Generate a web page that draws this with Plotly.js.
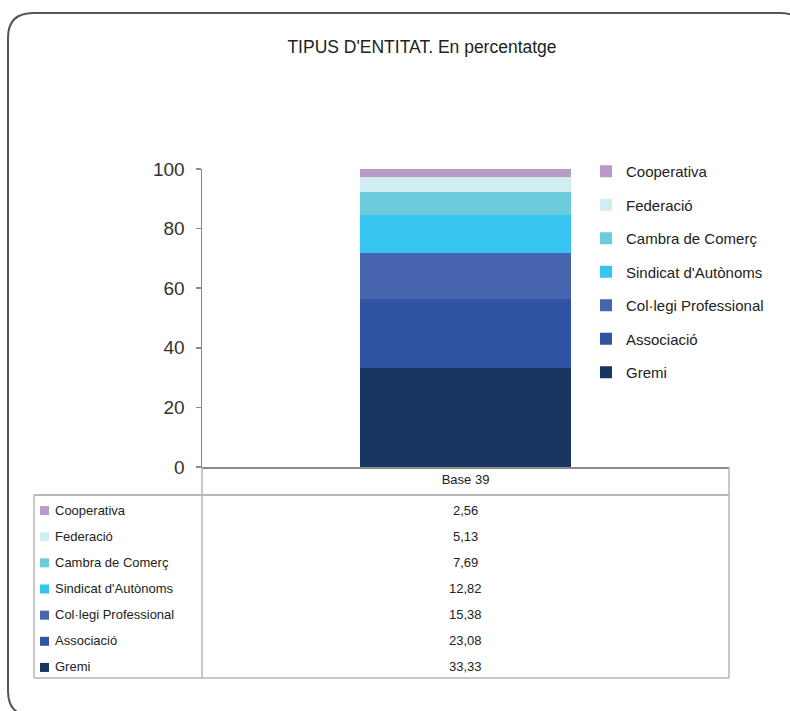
<!DOCTYPE html>
<html>
<head>
<meta charset="utf-8">
<script src="https://cdn.plot.ly/plotly-3.0.1.min.js"></script>
<style>
  html, body { margin: 0; padding: 0; background: #ffffff; }
  #chart { width: 790px; height: 711px; }
</style>
</head>
<body>
<div id="chart"></div>
<script>
// ---- Data ----
const categories = ['Base 39'];
const seriesNames = ['Gremi', 'Associació', 'Col·legi Professional', "Sindicat d'Autònoms", 'Cambra de Comerç', 'Federació', 'Cooperativa'];
const seriesValues = [33.33, 23.08, 15.38, 12.82, 7.69, 5.13, 2.56];
const yTickValues = [0, 20, 40, 60, 80, 100];
const chartTitle = "TIPUS D'ENTITAT. En percentatge";

// ---- Styles ----
const seriesColors = ['#183662', '#3053A4', '#4765AE', '#36C5F0', '#6DCCDB', '#D2EDF2', '#B89BC9'];
const W = 790, H = 711;
const L = 202, R = 729, T = 169, B = 467;
const px = x => (x - L) / (R - L);
const py = y => (B - y) / (B - T);
const FONT = 'Liberation Sans, Arial, sans-serif';
const nRows = seriesNames.length;

const traces = seriesNames.map((name, i) => ({
  type: 'bar',
  x: categories,
  y: [seriesValues[i]],
  name: name,
  legendgroup: name,
  legendrank: 100 + (nRows - i),
  marker: { color: seriesColors[i], line: { width: 0 } },
  width: 0.4,
  hoverinfo: 'name+y'
}));

// ---- Table below the chart ----
const rowTop = 495, rowBottom = 678, tableLeft = 34;
const rowH = (rowBottom - rowTop) / nRows;
const lineColor = '#b4b4b4';
const shapes = [];
const annotations = [];

// frame
(function () {
  const x0 = px(8), x1 = px(805), y0 = py(13), y1 = py(716);
  const rx = 25 / (R - L), ry = 25 / (B - T);
  const path = `M ${x0},${y1 + ry} L ${x0},${y0 - ry} Q ${x0},${y0} ${x0 + rx},${y0} L ${x1 - rx},${y0} Q ${x1},${y0} ${x1},${y0 - ry} L ${x1},${y1 + ry} Q ${x1},${y1} ${x1 - rx},${y1} L ${x0 + rx},${y1} Q ${x0},${y1} ${x0},${y1 + ry} Z`;
  shapes.push({ type: 'path', xref: 'paper', yref: 'paper', path: path, line: { color: '#555555', width: 2 }, layer: 'below' });
})();

function hline(y, xa, xb, color) {
  shapes.push({ type: 'line', xref: 'paper', yref: 'paper', x0: px(xa), x1: px(xb), y0: py(y), y1: py(y), line: { color: color || lineColor, width: 1.5 } });
}
function vline(x, ya, yb, color) {
  shapes.push({ type: 'line', xref: 'paper', yref: 'paper', x0: px(x), x1: px(x), y0: py(ya), y1: py(yb), line: { color: color || lineColor, width: 1.5 } });
}
hline(rowTop, tableLeft, R, '#a0a0a0');
hline(rowBottom, tableLeft, R);
vline(tableLeft, rowTop, rowBottom);
vline(L, B, rowBottom);
vline(R, B, rowBottom);

// rows: top row is the last series (Cooperativa)
for (let r = 0; r < nRows; r++) {
  const i = nRows - 1 - r;
  const yc = rowTop + rowH * (r + 0.5) + 2;
  shapes.push({
    type: 'rect', xref: 'paper', yref: 'paper',
    x0: px(40), x1: px(49), y0: py(yc + 5), y1: py(yc - 4),
    fillcolor: seriesColors[i], line: { width: 0 }
  });
  annotations.push({
    xref: 'paper', yref: 'paper', x: px(53), y: py(yc), xanchor: 'left', yanchor: 'middle',
    text: seriesNames[i], showarrow: false, font: { family: FONT, size: 13, color: '#222222' }
  });
  annotations.push({
    xref: 'paper', yref: 'paper', x: px((L + R) / 2), y: py(yc), xanchor: 'center', yanchor: 'middle',
    text: seriesValues[i].toFixed(2).replace('.', ','), showarrow: false, font: { family: FONT, size: 13, color: '#222222' }
  });
}

const layout = {
  width: W, height: H,
  margin: { l: L, r: W - R, t: T, b: H - B, pad: 0 },
  paper_bgcolor: '#ffffff', plot_bgcolor: '#ffffff',
  barmode: 'stack',
  bargap: 0.6,
  title: {
    text: chartTitle, xref: 'paper', x: px(422), xanchor: 'center',
    yref: 'container', y: 1 - 47 / H, yanchor: 'middle',
    font: { family: FONT, size: 17.5, color: '#222222' }
  },
  xaxis: {
    type: 'category', showline: true, linecolor: '#8a8a8a', linewidth: 1.5,
    ticks: '', showgrid: false, zeroline: false,
    tickfont: { family: FONT, size: 13, color: '#222222' },
    fixedrange: true
  },
  yaxis: {
    range: [0, 100], tickvals: yTickValues, ticktext: yTickValues.map(String),
    showline: true, linecolor: '#8a8a8a', linewidth: 1.5,
    ticks: 'outside', ticklen: 5, tickcolor: '#8a8a8a', tickwidth: 1.5,
    ticklabelstandoff: 7,
    showgrid: false, zeroline: false,
    tickfont: { family: FONT, size: 19, color: '#333333' },
    fixedrange: true
  },
  legend: {
    x: px(586), xanchor: 'left', y: py(155), yanchor: 'top',
    traceorder: 'grouped', tracegroupgap: 11,
    font: { family: FONT, size: 15, color: '#222222' },
    bgcolor: 'rgba(0,0,0,0)', itemclick: false, itemdoubleclick: false
  },
  shapes: shapes,
  annotations: annotations,
  showlegend: true
};

Plotly.newPlot('chart', traces, layout, { displayModeBar: false, staticPlot: true });
</script>
</body>
</html>
